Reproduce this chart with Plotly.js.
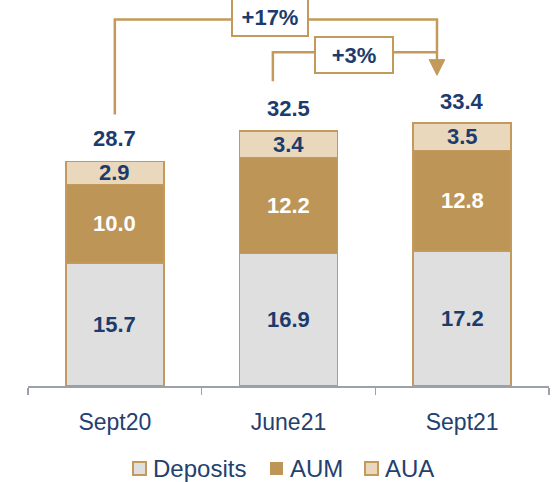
<!DOCTYPE html>
<html>
<head>
<meta charset="utf-8">
<script src="https://cdn.plot.ly/plotly-3.0.1.min.js"></script>
<style>html,body{margin:0;padding:0;background:#fff;}#chart{width:554px;height:482px;}</style>
</head>
<body>
<div id="chart"></div>
<script>
const categories = ["Sept20", "June21", "Sept21"];
const deposits = [15.7, 16.9, 17.2];
const aum = [10.0, 12.2, 12.8];
const aua = [2.9, 3.4, 3.5];
const totals = [28.7, 32.5, 33.4];
const growthLabels = ["+17%", "+3%"];
const seriesNames = ["Deposits", "AUM", "AUA"];

const NAVY = "#1d3b6c";
const GOLD = "#c39a5c";
const FONT = "Liberation Sans, Arial, sans-serif";
const fills = ["#dfdfdf", "#bd9557", "#e9d8bb"];

const outline = {color: GOLD, width: 1.5};
const traces = [deposits, aum, aua].map((vals, k) => ({
  type: "bar", name: seriesNames[k], x: categories, y: vals,
  marker: {color: fills[k], line: outline}, hoverinfo: "skip", showlegend: false
}));

const annotations = [];
const series = [[deposits, NAVY], [aum, "#ffffff"], [aua, NAVY]];
categories.forEach((c, i) => {
  let base = 0;
  series.forEach(([vals, col]) => {
    annotations.push({x: c, y: base + vals[i] / 2, text: "<b>" + vals[i].toFixed(1) + "</b>",
      showarrow: false, font: {family: FONT, size: 22, color: col}});
    base += vals[i];
  });
  annotations.push({x: c, y: totals[i], yanchor: "bottom", yshift: 8, text: "<b>" + totals[i].toFixed(1) + "</b>",
    showarrow: false, font: {family: FONT, size: 22, color: NAVY}});
});

// growth brackets (positions relative to bar totals)
const arrowX = 1.855;
const top1 = totals[2] + 13.3, top2 = totals[2] + 9.15;
const shapes = [
  {type: "path", xref: "x", yref: "y",
   path: `M 0,${totals[0] + 5.9} L 0,${top1} L ${arrowX},${top1} L ${arrowX},${totals[2] + 7.6}`,
   line: {color: GOLD, width: 2.5}},
  {type: "path", xref: "x", yref: "y",
   path: `M 0.91,${totals[1] + 6.35} L 0.91,${top2} L ${arrowX},${top2}`,
   line: {color: GOLD, width: 2.5}},
  {type: "path", xref: "x", yref: "y", fillcolor: GOLD,
   path: `M ${arrowX - 0.045},${totals[2] + 8.2} L ${arrowX + 0.045},${totals[2] + 8.2} L ${arrowX},${totals[2] + 6.2} Z`,
   line: {color: GOLD, width: 1}}
];
annotations.push({x: 0.895, y: top1 + 0.3, text: "<b>" + growthLabels[0] + "</b>", showarrow: false,
  font: {family: FONT, size: 22, color: NAVY}, bgcolor: "#ffffff", bordercolor: GOLD, borderwidth: 2,
  width: 72, height: 34});
annotations.push({x: 1.38, y: totals[2] + 8.85, text: "<b>" + growthLabels[1] + "</b>", showarrow: false,
  font: {family: FONT, size: 22, color: NAVY}, bgcolor: "#ffffff", bordercolor: GOLD, borderwidth: 2,
  width: 74, height: 32});

// manual legend (compact, like the original)
const plotW = 521, plotH = 386, ml = 28;
const px = v => (v - ml) / plotW;
const py = v => (plotH - v) / plotH;
const legendX = [133, 270, 365];
seriesNames.forEach((n, k) => {
  shapes.push({type: "rect", xref: "paper", yref: "paper",
    x0: px(legendX[k]), x1: px(legendX[k] + 13), y0: py(475), y1: py(462),
    fillcolor: fills[k], line: {color: GOLD, width: k === 1 ? 0 : 2}});
  annotations.push({xref: "paper", yref: "paper", x: px(legendX[k] + 18), y: py(468.5),
    xanchor: "left", yanchor: "middle", text: n, showarrow: false,
    font: {family: FONT, size: 24, color: "#23406e"}});
});

const layout = {
  width: 554, height: 482,
  margin: {l: 28, r: 5, t: 0, b: 96},
  barmode: "stack", bargap: 0.436,
  paper_bgcolor: "#ffffff", plot_bgcolor: "#ffffff",
  font: {family: FONT, color: NAVY},
  xaxis: {type: "category", showline: true, linecolor: "#9ca1a9", linewidth: 1.5,
    ticks: "outside", tickson: "boundaries", ticklen: 7, tickcolor: "#9ca1a9", tickwidth: 1.5,
    tickfont: {family: FONT, size: 23, color: "#23406e"}, ticklabelstandoff: 15, fixedrange: true},
  yaxis: {range: [0, 49.2], visible: false, showgrid: false, zeroline: false, fixedrange: true},
  showlegend: false,
  annotations: annotations,
  shapes: shapes
};

Plotly.newPlot("chart", traces, layout, {displayModeBar: false, staticPlot: true});
</script>
</body>
</html>
